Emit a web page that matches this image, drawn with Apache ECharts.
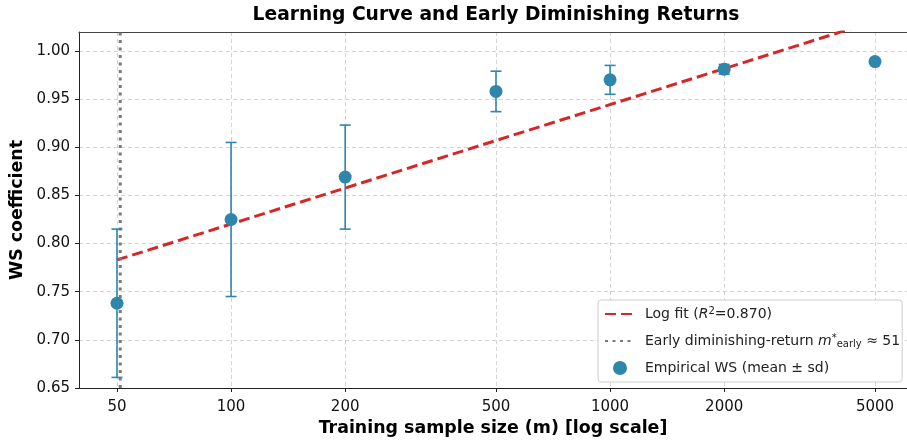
<!DOCTYPE html>
<html><head><meta charset="utf-8">
<script src="https://cdn.jsdelivr.net/npm/echarts@6/dist/echarts.min.js"></script>
<style>html,body{margin:0;padding:0;background:#fff}#c{width:907px;height:442px}</style>
</head><body><div id="c"></div>
<script>
// ---- data ----
const sampleSizes = [50, 100, 200, 500, 1000, 2000, 5000];
const meanWS = [0.738, 0.825, 0.869, 0.958, 0.970, 0.981, 0.989];
const sdWS = [0.077, 0.080, 0.054, 0.021, 0.015, 0.005, 0.002];
const fitM = [50, 5000];
const fitWS = [0.783, 1.031];
const earlyM = 51;
const xTicks = [50, 100, 200, 500, 1000, 2000, 5000];
const yTicks = [0.65, 0.70, 0.75, 0.80, 0.85, 0.90, 0.95, 1.00];
const yMin = 0.65, yMax = 1.0197;
const xMin = 39.7, xMax = 6073;

const FONT = 'DejaVu Sans';
const blue = '#2E86AB';
const red = '#D62728';
const gray = '#7a7a7a';

const scatterData = sampleSizes.map((m, i) => [m, meanWS[i]]);
const errData = sampleSizes.map((m, i) => [m, meanWS[i] - sdWS[i], meanWS[i] + sdWS[i]]);
const fitData = fitM.map((m, i) => [m, fitWS[i]]);
const vlineData = [[earlyM, yMin], [earlyM, yMax]];

const gridLine = {show: true, lineStyle: {color: '#c8c8c8', type: [4, 3], width: 0.8}};

const chart = echarts.init(document.getElementById('c'), null, {renderer: 'canvas'});
chart.setOption({
  animation: false,
  backgroundColor: '#fff',
  textStyle: {fontFamily: FONT},
  title: {
    text: 'Learning Curve and Early Diminishing Returns',
    left: 491, top: 1, textAlign: 'center',
    textStyle: {fontFamily: FONT, fontSize: 18.7, fontWeight: 'bold', color: '#000'}
  },
  grid: {left: 79, top: 32, right: 0, height: 356, show: false},
  xAxis: [{
    type: 'log', logBase: 10, min: xMin, max: xMax,
    name: 'Training sample size (m) [log scale]',
    nameLocation: 'middle', nameGap: 31,
    nameTextStyle: {fontFamily: FONT, fontSize: 17.4, fontWeight: 'bold', color: '#000'},
    axisLine: {show: true, onZero: false, lineStyle: {color: '#222', width: 1}},
    axisTick: {show: true, length: 4, customValues: xTicks, lineStyle: {color: '#222'}},
    axisLabel: {customValues: xTicks, margin: 12, fontSize: 15, color: '#111',
                fontFamily: FONT, formatter: v => String(Math.round(v))},
    splitLine: gridLine,
    minorTick: {show: false}, minorSplitLine: {show: false}
  }, {
    type: 'log', logBase: 10, min: xMin, max: xMax, position: 'top',
    axisLine: {show: true, onZero: false, lineStyle: {color: '#444', width: 1.2}},
    axisTick: {show: false}, axisLabel: {show: false}, splitLine: {show: false}
  }],
  yAxis: {
    type: 'value', min: yMin, max: yMax, interval: 0.05,
    name: 'WS coefficient', nameLocation: 'middle', nameGap: 50,
    nameTextStyle: {fontFamily: FONT, fontSize: 17.4, fontWeight: 'bold', color: '#000'},
    axisLine: {show: true, lineStyle: {color: '#222', width: 1}},
    axisTick: {show: true, length: 4, customValues: yTicks, lineStyle: {color: '#222'}},
    axisLabel: {customValues: yTicks, margin: 9, fontSize: 15, color: '#111',
                fontFamily: FONT, formatter: v => v.toFixed(2)},
    splitLine: gridLine
  },
  legend: {
    orient: 'vertical', left: 598, top: 300,
    backgroundColor: '#fff', borderColor: '#cccccc', borderWidth: 1, borderRadius: 3,
    padding: [6, 2, 7, 6], itemGap: 12, itemWidth: 30, itemHeight: 14,
    textStyle: {fontFamily: FONT, fontSize: 14, color: '#222', padding: [0, 0, 0, 5],
      rich: {
        n: {fontFamily: FONT, fontSize: 14, color: '#222'},
        i: {fontFamily: FONT, fontSize: 14, color: '#222', fontStyle: 'italic'},
        sup: {fontFamily: FONT, fontSize: 10, color: '#222', verticalAlign: 'top', padding: [0, 0, 6, 0]},
        sub: {fontFamily: FONT, fontSize: 10, color: '#222', verticalAlign: 'bottom', padding: [6, 0, 0, 0]}
      }},
    data: [
      {name: 'fit', itemStyle: {opacity: 0}},
      {name: 'early', itemStyle: {opacity: 0}},
      {name: 'emp'}
    ],
    formatter: function (name) {
      if (name === 'fit') return '{n|Log fit (}{i|R}{sup|2}{n|=0.870)}';
      if (name === 'early') return '{n|Early diminishing-return }{i|m}{sup|*}{sub|early}{n| ≈ 51}';
      return '{n|Empirical WS (mean ± sd)}';
    }
  },
  series: [
    {
      name: 'fit', type: 'line', data: fitData, symbol: 'none', clip: true,
      lineStyle: {color: red, width: 3, type: [11, 5]}, itemStyle: {color: red}, z: 2
    },
    {
      name: 'early', type: 'line', data: vlineData, symbol: 'none', clip: true,
      lineStyle: {color: gray, width: 3, type: [3, 4.5]}, itemStyle: {color: gray}, z: 3
    },
    {
      name: 'errbars', type: 'custom', data: errData, z: 4, clip: true,
      renderItem: function (params, api) {
        const x = api.value(0);
        const lo = api.coord([x, api.value(1)]);
        const hi = api.coord([x, api.value(2)]);
        const cap = 5.5;
        const st = {stroke: blue, lineWidth: 1.6};
        return {type: 'group', children: [
          {type: 'line', shape: {x1: lo[0], y1: lo[1], x2: hi[0], y2: hi[1]}, style: st},
          {type: 'line', shape: {x1: lo[0] - cap, y1: lo[1], x2: lo[0] + cap, y2: lo[1]}, style: st},
          {type: 'line', shape: {x1: hi[0] - cap, y1: hi[1], x2: hi[0] + cap, y2: hi[1]}, style: st}
        ]};
      }
    },
    {
      name: 'emp', type: 'scatter', data: scatterData, symbol: 'circle', symbolSize: 13,
      itemStyle: {color: blue, opacity: 1}, z: 5
    }
  ]
});
</script></body></html>
